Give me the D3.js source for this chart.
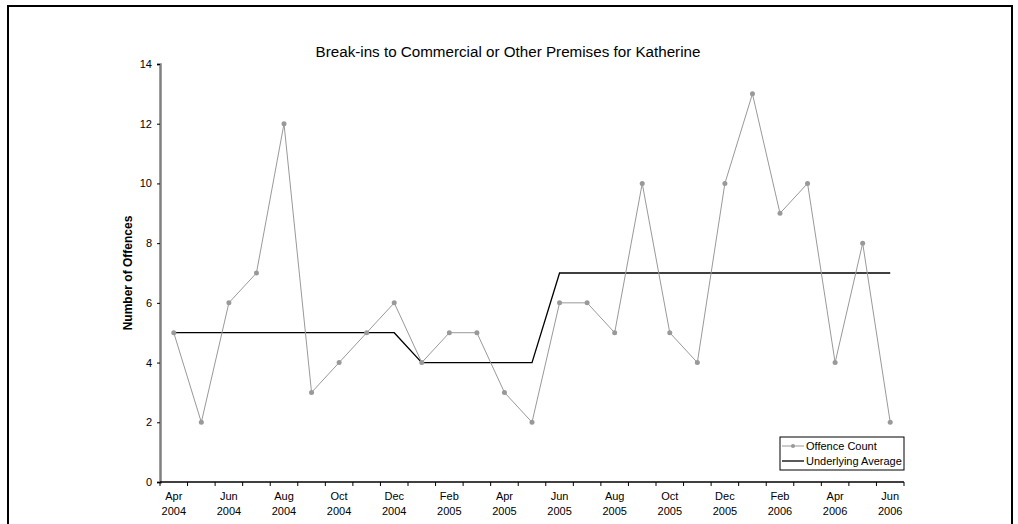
<!DOCTYPE html>
<html>
<head>
<meta charset="utf-8">
<script src="https://cdn.jsdelivr.net/npm/d3@7"></script>
<style>
  html, body { margin: 0; padding: 0; background: #fff; }
  svg { display: block; font-family: "Liberation Sans", Arial, sans-serif; }
</style>
</head>
<body>
<svg id="chart" width="1018" height="524"></svg>
<script>
const months = ["Apr 2004","May 2004","Jun 2004","Jul 2004","Aug 2004","Sep 2004","Oct 2004","Nov 2004","Dec 2004",
  "Jan 2005","Feb 2005","Mar 2005","Apr 2005","May 2005","Jun 2005","Jul 2005","Aug 2005","Sep 2005","Oct 2005","Nov 2005","Dec 2005",
  "Jan 2006","Feb 2006","Mar 2006","Apr 2006","May 2006","Jun 2006"];
const offenceCount = [5,2,6,7,12,3,4,5,6,4,5,5,3,2,6,6,5,10,5,4,10,13,9,10,4,8,2];
const underlyingAverage = [5,5,5,5,5,5,5,5,5,4,4,4,4,4,7,7,7,7,7,7,7,7,7,7,7,7,7];
const yTicks = [0,2,4,6,8,10,12,14];
const titleText = "Break-ins to Commercial or Other Premises for Katherine";
const yLabel = "Number of Offences";
const legendLabels = ["Offence Count","Underlying Average"];

const svg = d3.select("#chart");

// outer frame
svg.append("rect").attr("x", 8).attr("y", 6).attr("width", 1004).attr("height", 530)
  .attr("fill", "none").attr("stroke", "#000").attr("stroke-width", 2);

const mLeft = 160, mRight = 904, mTop = 64, mBottom = 482;

const x = d3.scaleBand().domain(months).range([mLeft, mRight]).padding(0);
const y = d3.scaleLinear().domain([0, 14]).range([mBottom, mTop]);

// title
svg.append("text").attr("x", 508).attr("y", 57).attr("text-anchor", "middle")
  .attr("font-size", 15.2).attr("fill", "#000").text(titleText);

// y axis
const yAxis = svg.append("g").attr("transform", `translate(${mLeft},0)`)
  .call(d3.axisLeft(y).tickValues(yTicks).tickSize(3).tickPadding(5));
yAxis.select(".domain").attr("stroke", "#808080").attr("stroke-width", 2.5);
yAxis.selectAll(".tick line").attr("stroke", "#000");
yAxis.selectAll("text").attr("font-size", 11).attr("font-family", "Liberation Sans, Arial, sans-serif").attr("fill", "#000");

// x axis
const xAxisG = svg.append("g").attr("transform", `translate(0,${mBottom})`);
xAxisG.append("line").attr("x1", mLeft).attr("x2", mRight).attr("y1", 0).attr("y2", 0)
  .attr("stroke", "#000").attr("stroke-width", 1.5);
const boundaries = months.map(m => x(m)).concat([x(months[months.length-1]) + x.bandwidth()]);
xAxisG.selectAll("line.tk").data(boundaries).join("line").attr("class","tk")
  .attr("x1", d => d).attr("x2", d => d).attr("y1", 0).attr("y2", 4)
  .attr("stroke", "#000").attr("stroke-width", 1);
const lbl = xAxisG.selectAll("text.xl").data(months.filter((m, i) => i % 2 === 0)).join("text")
  .attr("class", "xl").attr("text-anchor", "middle").attr("font-size", 11).attr("fill", "#000")
  .attr("x", d => x(d) + x.bandwidth() / 2);
lbl.append("tspan").attr("x", d => x(d) + x.bandwidth() / 2).attr("y", 18).text(d => d.split(" ")[0]);
lbl.append("tspan").attr("x", d => x(d) + x.bandwidth() / 2).attr("y", 33).text(d => d.split(" ")[1]);

// y label
svg.append("text").attr("transform", `translate(132,273) rotate(-90)`).attr("text-anchor", "middle")
  .attr("font-size", 12).attr("font-weight", "bold").attr("fill", "#000").text(yLabel);

const cx = (d, i) => x(months[i]) + x.bandwidth() / 2;

// underlying average
svg.append("path").datum(underlyingAverage)
  .attr("d", d3.line().x(cx).y(d => y(d)))
  .attr("fill", "none").attr("stroke", "#000").attr("stroke-width", 1.3);

// offence count
svg.append("path").datum(offenceCount)
  .attr("d", d3.line().x(cx).y(d => y(d)))
  .attr("fill", "none").attr("stroke", "#999").attr("stroke-width", 1);
svg.selectAll("circle.pt").data(offenceCount).join("circle").attr("class", "pt")
  .attr("cx", cx).attr("cy", d => y(d)).attr("r", 2.5).attr("fill", "#999");

// legend
const lg = svg.append("g").attr("transform", "translate(780,437)");
lg.append("rect").attr("width", 124).attr("height", 33).attr("fill", "#fff").attr("stroke", "#000").attr("stroke-width", 1);
legendLabels.forEach((t, i) => {
  const ly = 9 + i * 15;
  lg.append("line").attr("x1", 2).attr("x2", 24).attr("y1", ly).attr("y2", ly)
    .attr("stroke", i === 0 ? "#999" : "#000").attr("stroke-width", i === 0 ? 1 : 1.3);
  if (i === 0) lg.append("circle").attr("cx", 13).attr("cy", ly).attr("r", 2).attr("fill", "#999");
  lg.append("text").attr("x", 26).attr("y", ly + 4).attr("font-size", 11).attr("fill", "#000").text(t);
});
</script>
</body>
</html>
